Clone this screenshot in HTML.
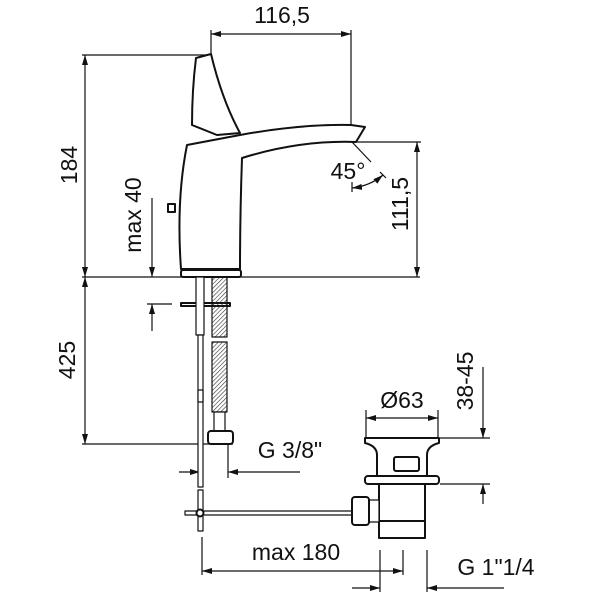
<!DOCTYPE html>
<html><head><meta charset="utf-8"><style>
html,body{margin:0;padding:0;background:#fff}
svg{display:block}
text{font-family:"Liberation Sans",sans-serif;font-size:23px;fill:#111}
</style></head><body>
<svg width="603" height="600" viewBox="0 0 603 600" xmlns="http://www.w3.org/2000/svg">
<defs>
<marker id="a" viewBox="0 0 10 6" refX="10" refY="3" markerWidth="10" markerHeight="6" orient="auto-start-reverse" markerUnits="userSpaceOnUse"><path d="M0,0 L10,3 L0,6 z" fill="#111"/></marker>
<pattern id="h" width="3" height="3" patternUnits="userSpaceOnUse" patternTransform="rotate(45)"><line x1="0" y1="0" x2="0" y2="3" stroke="#333" stroke-width="1.2"/></pattern>
</defs>
<g stroke="#111" stroke-width="1.2" fill="none">
<line x1="211" y1="34" x2="351" y2="34" marker-start="url(#a)" marker-end="url(#a)"/>
<line x1="211" y1="30" x2="211" y2="54"/>
<line x1="351" y1="30" x2="351" y2="142"/>
<line x1="85" y1="55" x2="85" y2="277" marker-start="url(#a)" marker-end="url(#a)"/>
<line x1="82" y1="55" x2="210" y2="55"/>
<line x1="82" y1="277" x2="420" y2="277"/>
<line x1="417" y1="142" x2="417" y2="277" marker-start="url(#a)" marker-end="url(#a)"/>
<line x1="352" y1="142" x2="421" y2="142"/>
<line x1="352" y1="142" x2="371" y2="162"/>
<path d="M352,188 Q370,186 383,175" marker-start="url(#a)" marker-end="url(#a)"/>
<line x1="352" y1="182" x2="352" y2="192"/>
<line x1="380" y1="172" x2="386" y2="178"/>
<line x1="152" y1="198" x2="152" y2="277" marker-end="url(#a)"/>
<line x1="152" y1="331" x2="152" y2="304" marker-end="url(#a)"/>
<line x1="147" y1="304" x2="172" y2="304"/>
<line x1="85" y1="277" x2="85" y2="444" marker-start="url(#a)" marker-end="url(#a)"/>
<line x1="82" y1="444" x2="233" y2="444"/>
<line x1="179" y1="472" x2="200" y2="472" marker-end="url(#a)"/>
<line x1="300" y1="472" x2="228" y2="472" marker-end="url(#a)"/>
<line x1="228" y1="444" x2="228" y2="478"/>
<line x1="366" y1="418" x2="438" y2="418" marker-start="url(#a)" marker-end="url(#a)"/>
<line x1="366" y1="410" x2="366" y2="437"/>
<line x1="438" y1="410" x2="438" y2="437"/>
<line x1="483" y1="367" x2="483" y2="438" marker-end="url(#a)"/>
<line x1="483" y1="504" x2="483" y2="484" marker-end="url(#a)"/>
<line x1="440" y1="438" x2="490" y2="438"/>
<line x1="440" y1="484" x2="490" y2="484"/>
<line x1="202" y1="571" x2="403" y2="571" marker-start="url(#a)" marker-end="url(#a)"/>
<line x1="202" y1="537" x2="202" y2="575"/>
<line x1="403" y1="550" x2="403" y2="575"/>
<line x1="352" y1="588" x2="380" y2="588" marker-end="url(#a)"/>
<line x1="504" y1="588" x2="427" y2="588" marker-end="url(#a)"/>
<line x1="380" y1="550" x2="380" y2="592"/>
<line x1="427" y1="550" x2="427" y2="592"/>
</g>
<g stroke="#111" stroke-width="2" fill="#fff" stroke-linejoin="round">
<path d="M196,58 L211,54 Q222,100 240,133 L217,135 L192,125 Q192,90 196,58 Z"/>
<path d="M187,145 L240,135 Q300,124 351,125 L365,127 L356,142 Q300,140 242,158 Q240,215 240,269 L181,269 Q176,200 187,145 Z"/>
<rect x="168" y="204" width="7" height="8"/>
<rect x="181" y="270" width="60" height="7" rx="2"/>
<rect x="181" y="303" width="49" height="3"/>
<rect x="196" y="277" width="8" height="58" stroke-width="1.2"/>
<rect x="198" y="335" width="5" height="152" stroke-width="1.2"/>
<rect x="198" y="390" width="5" height="12" stroke-width="1.2"/>
<rect x="212" y="277" width="15" height="60" fill="url(#h)" stroke-width="1.2"/>
<rect x="212" y="342" width="15" height="70" fill="url(#h)" stroke-width="1.2"/>
<rect x="214" y="412" width="11" height="19" stroke-width="1.2"/>
<rect x="208" y="431" width="25" height="13" rx="3"/>
<rect x="198" y="490" width="5" height="41" stroke-width="1.2"/>
<rect x="185" y="511" width="167" height="4" stroke-width="1.2"/>
<circle cx="200" cy="513" r="3.5"/>
<path d="M365,438 L439,438 L439,443 Q427,446 427,455 L427,476 L377,476 L377,455 Q377,446 365,443 Z"/>
<rect x="394" y="457" width="25" height="14" rx="2"/>
<rect x="365" y="476" width="74" height="8" rx="3"/>
<rect x="379" y="484" width="46" height="54"/>
<line x1="379" y1="521" x2="425" y2="521"/>
<rect x="369" y="500" width="10" height="22" stroke-width="1.2"/>
<rect x="352" y="497" width="17" height="28" rx="3"/>
</g>
<g>
<text x="282" y="23" text-anchor="middle">116,5</text>
<text transform="translate(77,165) rotate(-90)" text-anchor="middle">184</text>
<text transform="translate(141,215) rotate(-90)" text-anchor="middle">max 40</text>
<text transform="translate(408,204) rotate(-90)" text-anchor="middle">111,5</text>
<text x="348" y="179" text-anchor="middle">45°</text>
<text transform="translate(75,360) rotate(-90)" text-anchor="middle">425</text>
<text x="290" y="458" text-anchor="middle">G 3/8"</text>
<text x="402" y="408" text-anchor="middle">Ø63</text>
<text transform="translate(473,381) rotate(-90)" text-anchor="middle">38-45</text>
<text x="296" y="560" text-anchor="middle">max 180</text>
<text x="496" y="575" text-anchor="middle">G 1"1/4</text>
</g>
</svg>
</body></html>
